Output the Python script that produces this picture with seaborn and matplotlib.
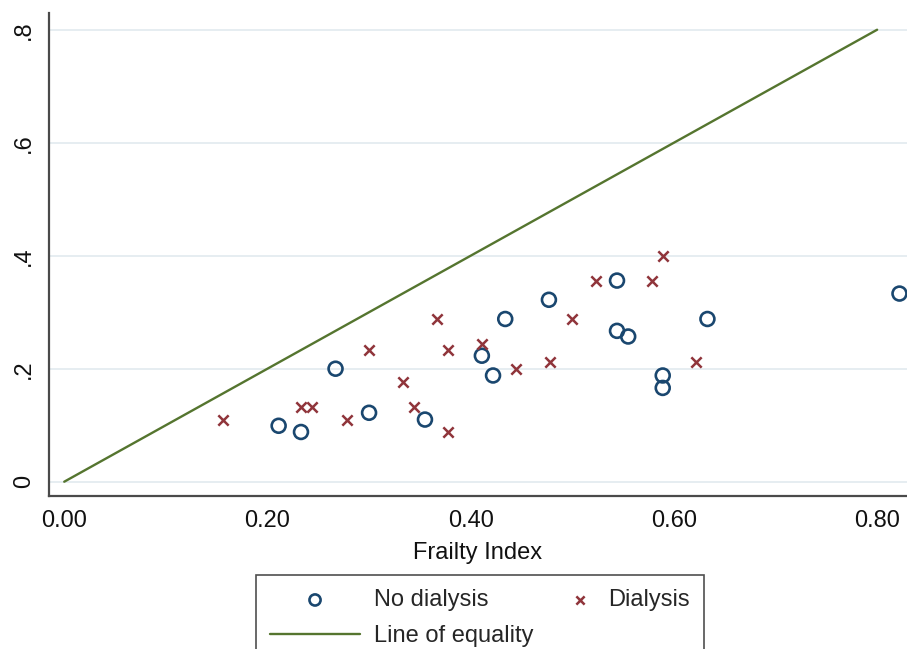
import matplotlib
matplotlib.use("Agg")
import matplotlib.pyplot as plt
from matplotlib.legend_handler import HandlerPathCollection
import seaborn as sns
import pandas as pd

# ---- data ----
no_dialysis_fi = [0.211, 0.233, 0.267, 0.300, 0.355, 0.411, 0.422, 0.434,
                  0.477, 0.544, 0.544, 0.555, 0.589, 0.589, 0.633, 0.822]
no_dialysis_y = [0.099, 0.088, 0.200, 0.122, 0.110, 0.223, 0.188, 0.288,
                 0.322, 0.356, 0.267, 0.257, 0.188, 0.166, 0.288, 0.333]

dialysis_fi = [0.156, 0.233, 0.244, 0.278, 0.300, 0.333, 0.344, 0.367, 0.378,
               0.378, 0.411, 0.445, 0.478, 0.500, 0.523, 0.578, 0.589, 0.622]
dialysis_y = [0.110, 0.133, 0.133, 0.110, 0.234, 0.177, 0.133, 0.288, 0.234,
              0.088, 0.244, 0.200, 0.211, 0.288, 0.356, 0.356, 0.400, 0.211]

equality_x = [0.0, 0.8]
equality_y = [0.0, 0.8]

x_ticks = [0.0, 0.2, 0.4, 0.6, 0.8]
x_tick_labels = ["0.00", "0.20", "0.40", "0.60", "0.80"]
y_ticks = [0.0, 0.2, 0.4, 0.6, 0.8]
y_tick_labels = ["0", ".2", ".4", ".6", ".8"]

series_labels = ["No dialysis", "Dialysis", "Line of equality"]

# ---- style ----
sns.set_style("white")
plt.rcParams["font.family"] = ["Liberation Sans", "DejaVu Sans"]

BLUE = "#1a476f"
RED = "#90353b"
GREEN = "#55752f"
GRID = "#e4ecf0"
SPINE = "#4a4a4a"
FS = 17


class RightShiftedMarker(HandlerPathCollection):
    """Legend handler that draws the marker near the right end of its slot."""

    def get_xdata(self, legend, xdescent, ydescent, width, height, fontsize):
        xd, xm = super().get_xdata(legend, xdescent, ydescent, width,
                                   height, fontsize)
        shift = 0.35 * width
        return [x + shift for x in xd], [x + shift for x in xm]


fig = plt.figure(figsize=(9.07, 6.49), dpi=100)
ax = fig.add_axes([49 / 907, 1 - 496 / 649, 858 / 907, 483 / 649])

df_no = pd.DataFrame({"fi": no_dialysis_fi, "y": no_dialysis_y})
df_di = pd.DataFrame({"fi": dialysis_fi, "y": dialysis_y})
df_eq = pd.DataFrame({"fi": equality_x, "y": equality_y})

for yt in y_ticks:
    ax.axhline(yt, color=GRID, lw=1.3, zorder=0)

sns.lineplot(data=df_eq, x="fi", y="y", ax=ax, color=GREEN, lw=1.7,
             label=series_labels[2], legend=False, zorder=2)
sns.scatterplot(data=df_no, x="fi", y="y", ax=ax, marker="o", s=100,
                color=BLUE, facecolors="none", edgecolor=BLUE, linewidth=1.9,
                label=series_labels[0], legend=False, zorder=3)
sns.scatterplot(data=df_di, x="fi", y="y", ax=ax, marker="x", s=55,
                color=RED, linewidth=1.8,
                label=series_labels[1], legend=False, zorder=3)

ax.set_xlim(-0.015, 0.8294)
ax.set_ylim(-0.0253, 0.8296)

ax.set_xticks(x_ticks)
ax.set_xticklabels(x_tick_labels)
ax.set_yticks(y_ticks)
ax.set_yticklabels(y_tick_labels, rotation=90, va="center")

ax.tick_params(axis="both", which="major", direction="out", length=6,
               width=1.2, color=SPINE, labelsize=FS, labelcolor="#111111")
ax.tick_params(axis="y", pad=4)
ax.tick_params(axis="x", pad=4)

for side in ["top", "right"]:
    ax.spines[side].set_visible(False)
for side in ["left", "bottom"]:
    ax.spines[side].set_color(SPINE)
    ax.spines[side].set_linewidth(1.6)

ax.set_xlabel("Frailty Index", fontsize=FS, color="#111111", labelpad=7)
ax.set_ylabel("")

handles, labels = ax.get_legend_handles_labels()
hmap = dict(zip(labels, handles))
order = [series_labels[0], series_labels[2], series_labels[1]]
leg = fig.legend([hmap[l] for l in order], order, loc="upper left",
                 bbox_to_anchor=(256 / 907, 1 - 575 / 649), borderaxespad=0,
                 ncol=2, fontsize=FS,
                 frameon=True, fancybox=False, edgecolor="#222222",
                 handlelength=3.8, handletextpad=0.6, columnspacing=-1.25,
                 borderpad=0.6, labelspacing=0.6, markerscale=0.8,
                 handler_map={hmap[series_labels[1]]: RightShiftedMarker()})
leg.get_frame().set_linewidth(1.2)

fig.savefig("out.png", dpi=100)
